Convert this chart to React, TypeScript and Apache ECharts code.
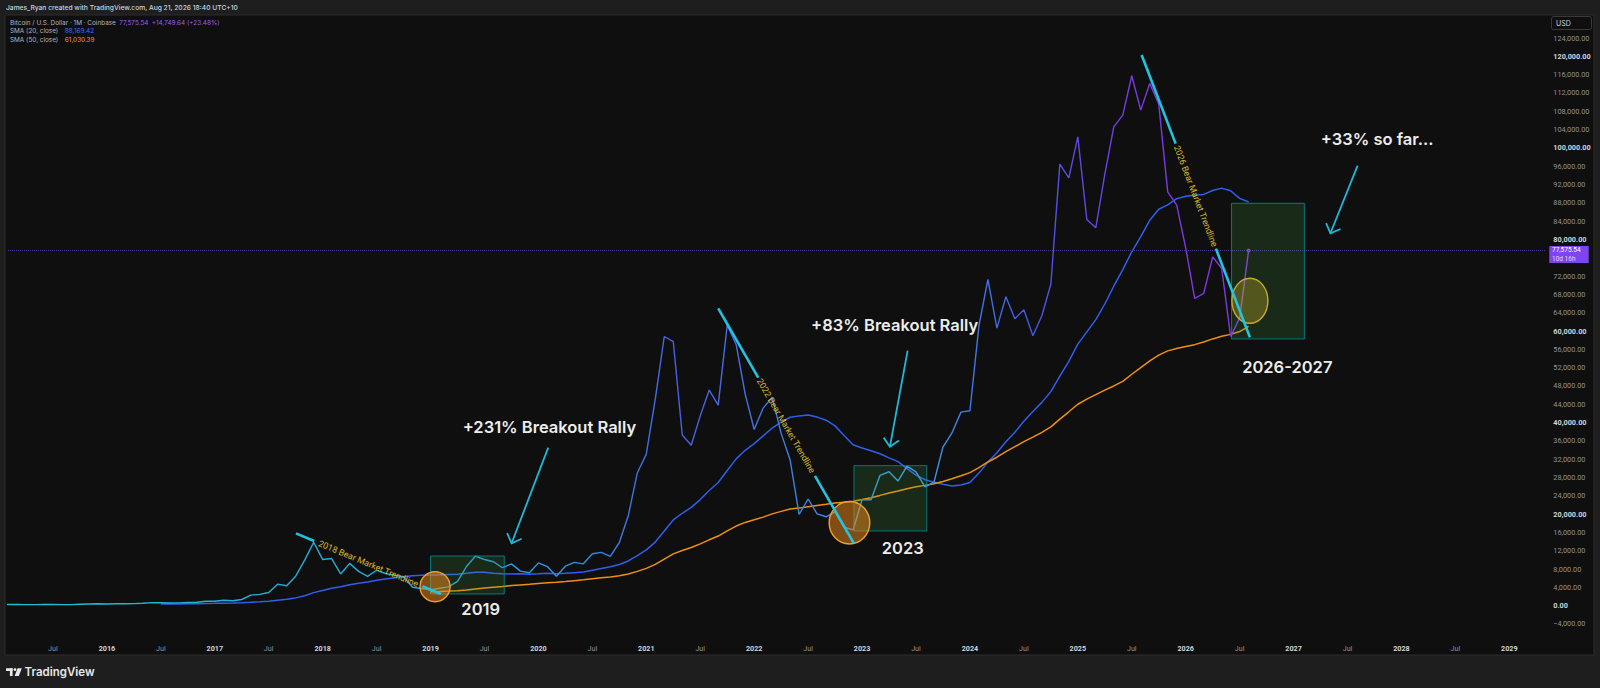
import React, { useEffect, useRef } from "react";
import * as echarts from "echarts";

// month index: 0 = Jan 2016 (TradingView monthly bars, equal spacing)
const FIRST_MONTH = -13; // Dec 2014
const btcCloses = [
  320,
  217, 254, 244, 236, 230, 263, 284, 230, 236, 314, 378, 430,
  368, 437, 416, 448, 531, 673, 624, 573, 609, 700, 742, 963,
  970, 1190, 1080, 1350, 2300, 2480, 2870, 4700, 4340, 6450, 9950, 13850,
  10100, 10300, 6930, 9240, 7490, 6390, 7730, 7030, 6630, 6320, 4020, 3740,
  3440, 3810, 4100, 5320, 8560, 10820, 10080, 9590, 8290, 9140, 7540, 7190,
  9350, 8540, 6410, 8630, 9450, 9140, 11350, 11650, 10780, 13800, 19700, 28990,
  33100, 45140, 58800, 57700, 37300, 35040, 41460, 47100, 43800, 61300, 57000, 46200,
  38480, 43160, 45540, 37640, 31800, 19930, 23300, 20050, 19420, 20490, 17170, 16540,
  23130, 23140, 28480, 29250, 27220, 30480, 29230, 25940, 26970, 34660, 37720, 42280,
  42580, 61130, 71290, 60640, 67490, 62680, 64620, 58970, 63330, 70220, 96450, 93430,
  102400, 84350, 82550, 94200, 104600, 107150, 115760, 108250, 114050, 109600, 90400, 87500,
  78170, 67100, 68200, 76200, 73700, 58800, 62826, 77575.54,
];

const SMA20_FIRST = 6; // Jul 2016
const sma20 = [
  357, 369, 389, 411, 436, 472, 509, 556, 596, 652,
  755, 863, 988, 1201, 1400, 1700, 2177, 2847, 3326, 3807,
  4122, 4556, 4900, 5184, 5534, 5837, 6120, 6377, 6524, 6643,
  6700, 6767, 6828, 6859, 7070, 7289, 7295, 7082, 6992, 6934,
  6964, 6862, 6955, 7062, 6996, 7076, 7217, 7358, 7725, 8120,
  8487, 8987, 9767, 10950, 12177, 13893, 16329, 18735, 20185, 21480,
  23176, 25172, 26894, 29532, 32062, 33940, 35392, 37093, 38802, 40102,
  41153, 41459, 41639, 41192, 40508, 39276, 37194, 35136, 34428, 33833,
  33184, 32291, 31462, 29921, 28533, 27520, 26944, 26519, 26128, 26360,
  26899, 28959, 31359, 33388, 35792, 37901, 40274, 42395, 44405, 46759,
  50158, 53367, 57126, 59819, 62485, 65898, 69780, 73404, 77306, 80605,
  84178, 86602, 87557, 88900, 89435, 89656, 89835, 90696, 91214, 90644,
  88962, 88169.42,
];

const SMA50_FIRST = 36; // Jan 2019
const sma50 = [
  3032, 3102, 3180, 3281, 3447, 3659, 3856, 4043, 4203, 4381,
  4527, 4664, 4844, 5006, 5127, 5291, 5471, 5645, 5862, 6081,
  6284, 6549, 6931, 7497, 8144, 9027, 10184, 11314, 12038, 12712,
  13495, 14388, 15206, 16338, 17392, 18187, 18757, 19343, 20052, 20599,
  21096, 21310, 21626, 21900, 22133, 22403, 22613, 22818, 23200, 23588,
  24089, 24598, 25060, 25563, 25977, 26279, 26617, 27118, 27707, 28370,
  29070, 30149, 31388, 32430, 33652, 34733, 35836, 36833, 37872, 39044,
  40757, 42350, 44004, 45111, 46100, 47081, 47997, 48986, 50555, 52019,
  53471, 54721, 55653, 56177, 56600, 57018, 57613, 58273, 58837, 59260,
  59880, 61030.39,
];

const lastPrice = 77575.54;
const Y_MIN = -8000;
const Y_MAX = 128000;
const Y_STEP = 4000;

// drawings, anchored in [month index, price]
const boxes = [
  { m0: 36, v0: 10850, m1: 44.2, v1: 2560 },
  { m0: 83.1, v0: 30580, m1: 91.2, v1: 16320 },
  { m0: 125.1, v0: 87900, m1: 133.2, v1: 58260 },
];
const circles = [
  { m: 36.5, v: 4150, rx: 15, ry: 15, kind: "orange" },
  { m: 82.6, v: 18110, rx: 20.3, ry: 21.2, kind: "orange" },
  { m: 127.14, v: 66600, rx: 18, ry: 22.5, kind: "yellow" },
];
const trendlines = [
  { text: "2018 Bear Market Trendline", m0: 21.03, v0: 15800, m1: 37.16, v1: 2556, g0: 0.126, g1: 0.872 },
  { text: "2022 Bear Market Trendline", m0: 68.0, v0: 64960, m1: 83.09, v1: 13630, g0: 0.295, g1: 0.713 },
  { text: "2026 Bear Market Trendline", m0: 115.1, v0: 120290, m1: 127.14, v1: 58630, g0: 0.314, g1: 0.686 },
];
const arrows = [
  { m0: 49.09, v0: 34510, m1: 45.02, v1: 13630 },
  { m0: 89.07, v0: 55700, m1: 87.1, v1: 34730 },
  { m0: 139.12, v0: 96110, m1: 136.1, v1: 81345 },
];
const labels = [
  { text: "+231% Breakout Rally", m: 49.22, v: 38960 },
  { text: "+83% Breakout Rally", m: 87.63, v: 61315 },
  { text: "+33% so far...", m: 141.3, v: 101880 },
  { text: "2019", m: 41.58, v: -786 },
  { text: "2023", m: 88.52, v: 12540 },
  { text: "2026-2027", m: 131.3, v: 52030 },
];

const FONT = 'Inter, "Noto Sans", sans-serif';
const AXIS_FONT = 'Roboto, "Liberation Sans", sans-serif';

const fmtPrice = (v: number) =>
  v.toLocaleString("en-US", { minimumFractionDigits: 2, maximumFractionDigits: 2 }).replace("-", "\u2212");

export default function App() {
  const ref = useRef<HTMLDivElement>(null);

  useEffect(() => {
    document.body.style.margin = "0";
    const chart = echarts.init(ref.current!, null, { renderer: "svg" });

    const priceData = btcCloses.map((c, i) =>
      i === btcCloses.length - 1
        ? { value: [FIRST_MONTH + i, c], symbol: "circle", symbolSize: 4 }
        : [FIRST_MONTH + i, c]
    );
    const sma20Data = sma20.map((v, i) => [SMA20_FIRST + i, v]);
    const sma50Data = sma50.map((v, i) => [SMA50_FIRST + i, v]);

    const option: any = {
      animation: false,
      backgroundColor: "#0f0f0f",
      textStyle: { fontFamily: AXIS_FONT },
      grid: { left: 8, top: 19.7, width: 1537.3, height: 622.6, containLabel: false },
      xAxis: {
        type: "value",
        min: -11,
        max: 160,
        interval: 1,
        z: 5,
        axisLine: { show: false },
        axisTick: { show: false },
        splitLine: { show: false },
        axisLabel: {
          margin: 3,
          fontSize: 7.2,
          fontFamily: AXIS_FONT,
          formatter: (val: number) => {
            const m = Math.round(val);
            const mod = ((m % 12) + 12) % 12;
            if (mod === 0) return `{y|${2016 + m / 12}}`;
            if (mod === 6) return "{m|Jul}";
            return "";
          },
          rich: {
            y: { color: "#d1d4dc", fontWeight: "bold", fontSize: 7.2, fontFamily: AXIS_FONT },
            m: { color: "#8f939c", fontSize: 7.2, fontFamily: AXIS_FONT },
          },
        },
      },
      yAxis: {
        type: "value",
        position: "right",
        min: Y_MIN,
        max: Y_MAX,
        interval: Y_STEP,
        z: 5,
        axisLine: { show: false },
        axisTick: { show: false },
        splitLine: { show: false },
        axisLabel: {
          margin: 8,
          fontSize: 7.3,
          fontFamily: AXIS_FONT,
          formatter: (v: number) => {
            if (v === Y_MIN || v === Y_MAX) return "";
            // the last-price label covers the tick label next to it
            if (Math.abs(v - (lastPrice - 1500)) < 2500) return "";
            const s = fmtPrice(v);
            return v % 20000 === 0 ? `{b|${s}}` : `{n|${s}}`;
          },
          rich: {
            b: { color: "#d1d4dc", fontWeight: "bold", fontSize: 7.3, fontFamily: AXIS_FONT },
            n: { color: "#8f939c", fontSize: 7.3, fontFamily: AXIS_FONT },
          },
        },
      },
      visualMap: {
        type: "continuous",
        show: false,
        seriesIndex: 0,
        dimension: 0,
        min: -13,
        max: 128,
        inRange: {
          color: [
            "#22bcd6", "#21b8d6", "#20b2d6", "#21acd8", "#24a4da", "#2c93e0",
            "#4a5de6", "#3f7fe4", "#37a0e1", "#4656e5", "#7a38e4", "#8535e2",
          ],
        },
      },
      series: [
        {
          type: "line",
          name: "BTCUSD",
          data: priceData,
          symbol: "none",
          z: 4,
          lineStyle: { width: 1.4 },
          markLine: {
            silent: true,
            symbol: ["none", "none"],
            label: { show: false },
            lineStyle: { type: "dotted", color: "#45368c", width: 1 },
            data: [{ yAxis: lastPrice }],
          },
        },
        {
          type: "line",
          name: "SMA 20",
          data: sma20Data,
          symbol: "none",
          z: 3,
          lineStyle: { width: 1.5, color: "#2e5ff0" },
          itemStyle: { color: "#2e5ff0" },
        },
        {
          type: "line",
          name: "SMA 50",
          data: sma50Data,
          symbol: "none",
          z: 3,
          lineStyle: { width: 1.5, color: "#f0900f" },
          itemStyle: { color: "#f0900f" },
        },
      ],
    };

    chart.setOption(option);

    const px = (m: number, v: number) =>
      chart.convertToPixel({ xAxisIndex: 0, yAxisIndex: 0 }, [m, v]) as number[];

    const g: any[] = [];
    const OUTER = "#1e1e1e";
    // outer frame strips
    g.push({ type: "rect", z: 100, shape: { x: 0, y: 0, width: 1600, height: 15 }, style: { fill: OUTER } });
    g.push({ type: "rect", z: 100, shape: { x: 0, y: 655, width: 1600, height: 33 }, style: { fill: OUTER } });
    g.push({ type: "rect", z: 100, shape: { x: 0, y: 0, width: 5, height: 688 }, style: { fill: OUTER } });
    g.push({ type: "rect", z: 100, shape: { x: 1594, y: 0, width: 6, height: 688 }, style: { fill: OUTER } });
    g.push({
      type: "rect", z: 101,
      shape: { x: 5, y: 15, width: 1589, height: 640 },
      style: { fill: "none", stroke: "#2c2c2c", lineWidth: 1 },
    });

    // header + legend
    g.push({
      type: "text", z: 102, x: 6, y: 8,
      style: {
        text: "James_Ryan created with TradingView.com, Aug 21, 2026 18:40 UTC+10",
        fill: "#d1d4dc", fontSize: 6.7, fontFamily: FONT, fontWeight: 500, verticalAlign: "middle",
      },
    });
    const LF = 6.4;
    const legendRich = {
      g: { fill: "#b2b5be", fontSize: LF, fontFamily: FONT },
      p: { fill: "#9a5cf5", fontSize: LF, fontFamily: FONT },
      b: { fill: "#3b6ef5", fontSize: LF, fontFamily: FONT },
      o: { fill: "#f59a23", fontSize: LF, fontFamily: FONT },
    };
    g.push({
      type: "text", z: 102, x: 10, y: 22.5,
      style: {
        text: "{g|Bitcoin / U.S. Dollar · 1M · Coinbase} {p|77,575.54} {p|+14,749.64 (+23.48%)}",
        rich: legendRich, verticalAlign: "middle",
      },
    });
    g.push({
      type: "text", z: 102, x: 10, y: 31.3,
      style: { text: "{g|SMA (20, close)}  {b|88,169.42}", rich: legendRich, verticalAlign: "middle" },
    });
    g.push({
      type: "text", z: 102, x: 10, y: 40.2,
      style: { text: "{g|SMA (50, close)}  {o|61,030.39}", rich: legendRich, verticalAlign: "middle" },
    });

    // USD box
    g.push({
      type: "rect", z: 102,
      shape: { x: 1551.5, y: 16.5, width: 40, height: 13, r: 2 },
      style: { fill: "#0f0f0f", stroke: "#3a3a3a", lineWidth: 1 },
    });
    g.push({
      type: "text", z: 103, x: 1556, y: 23,
      style: { text: "USD", fill: "#d1d4dc", fontSize: 7, fontFamily: FONT, verticalAlign: "middle" },
    });

    // last price label
    const lp = px(127, lastPrice);
    g.push({
      type: "rect", z: 102,
      shape: { x: 1549.3, y: lp[1] - 4.5, width: 39.4, height: 17 },
      style: { fill: "#7e44f0" },
    });
    g.push({
      type: "text", z: 103, x: 1552, y: lp[1] - 0.3,
      style: { text: fmtPrice(lastPrice), fill: "#ffffff", fontSize: 6.5, lineHeight: 7, fontFamily: AXIS_FONT, verticalAlign: "middle" },
    });
    g.push({
      type: "text", z: 103, x: 1552, y: lp[1] + 8,
      style: { text: "10d 16h", fill: "#e4dafc", fontSize: 6.5, lineHeight: 7, fontFamily: AXIS_FONT, verticalAlign: "middle" },
    });

    // footer logo
    const LOGO = "#e8e8e8";
    g.push({ type: "rect", z: 102, shape: { x: 6, y: 668.2, width: 6.6, height: 2.7 }, style: { fill: LOGO } });
    g.push({ type: "rect", z: 102, shape: { x: 9.9, y: 668.2, width: 2.7, height: 7.8 }, style: { fill: LOGO } });
    g.push({ type: "circle", z: 102, shape: { cx: 15, cy: 669.6, r: 1.45 }, style: { fill: LOGO } });
    g.push({
      type: "polygon", z: 102,
      shape: { points: [[17.6, 668.2], [21.8, 668.2], [18.8, 676], [14.6, 676]] },
      style: { fill: LOGO },
    });
    g.push({
      type: "text", z: 102, x: 24.5, y: 672,
      style: { text: "TradingView", fill: LOGO, fontSize: 11.5, fontFamily: FONT, fontWeight: 600, verticalAlign: "middle" },
    });

    // drawings
    boxes.forEach((b) => {
      const a = px(b.m0, b.v0);
      const c = px(b.m1, b.v1);
      g.push({
        type: "rect", z: 20,
        shape: { x: a[0], y: a[1], width: c[0] - a[0], height: c[1] - a[1] },
        style: { fill: "rgba(76,175,80,0.17)", stroke: "rgba(0,150,165,0.75)", lineWidth: 1 },
      });
    });
    circles.forEach((c) => {
      const p = px(c.m, c.v);
      const orange = c.kind === "orange";
      g.push({
        type: "ellipse", z: 21,
        shape: { cx: p[0], cy: p[1], rx: c.rx, ry: c.ry },
        style: {
          fill: orange ? "rgba(245,140,25,0.5)" : "rgba(205,180,40,0.33)",
          stroke: orange ? "#f0a030" : "#c9a92e",
          lineWidth: 1.4,
        },
      });
    });
    const CYAN = "#22c3de";
    trendlines.forEach((t) => {
      const p0 = px(t.m0, t.v0);
      const p1 = px(t.m1, t.v1);
      const lerp = (f: number) => [p0[0] + (p1[0] - p0[0]) * f, p0[1] + (p1[1] - p0[1]) * f];
      const a = lerp(t.g0);
      const b = lerp(t.g1);
      const mid = lerp(0.5);
      g.push({ type: "line", z: 22, shape: { x1: p0[0], y1: p0[1], x2: a[0], y2: a[1] }, style: { stroke: CYAN, lineWidth: 2.6 } });
      g.push({ type: "line", z: 22, shape: { x1: b[0], y1: b[1], x2: p1[0], y2: p1[1] }, style: { stroke: CYAN, lineWidth: 2.6 } });
      const ang = Math.atan2(p1[1] - p0[1], p1[0] - p0[0]);
      g.push({
        type: "text", z: 23, x: mid[0], y: mid[1], rotation: -ang,
        style: {
          text: t.text, x: 0, y: 0, align: "center", verticalAlign: "middle",
          fill: "#d6ba30", fontSize: 8.8, fontFamily: AXIS_FONT,
        },
      });
    });
    arrows.forEach((ar) => {
      const s = px(ar.m0, ar.v0);
      const e = px(ar.m1, ar.v1);
      const dx = s[0] - e[0];
      const dy = s[1] - e[1];
      const len = Math.hypot(dx, dy);
      const ux = dx / len;
      const uy = dy / len;
      const wing = (th: number) => [
        e[0] + 11 * (ux * Math.cos(th) - uy * Math.sin(th)),
        e[1] + 11 * (ux * Math.sin(th) + uy * Math.cos(th)),
      ];
      g.push({ type: "line", z: 22, shape: { x1: s[0], y1: s[1], x2: e[0], y2: e[1] }, style: { stroke: "#1fb8d8", lineWidth: 1.8 } });
      g.push({
        type: "polyline", z: 22,
        shape: { points: [wing(Math.PI / 4), e, wing(-Math.PI / 4)] },
        style: { stroke: "#1fb8d8", lineWidth: 1.8, fill: "none" },
      });
    });
    labels.forEach((l) => {
      const p = px(l.m, l.v);
      g.push({
        type: "text", z: 24, x: p[0], y: p[1],
        style: {
          text: l.text, align: "center", verticalAlign: "middle",
          fill: "#ececec", fontSize: 16.5, fontWeight: 600, fontFamily: FONT,
        },
      });
    });

    chart.setOption({ graphic: { elements: g } });

    return () => chart.dispose();
  }, []);

  return <div ref={ref} style={{ width: 1600, height: 688 }} />;
}
